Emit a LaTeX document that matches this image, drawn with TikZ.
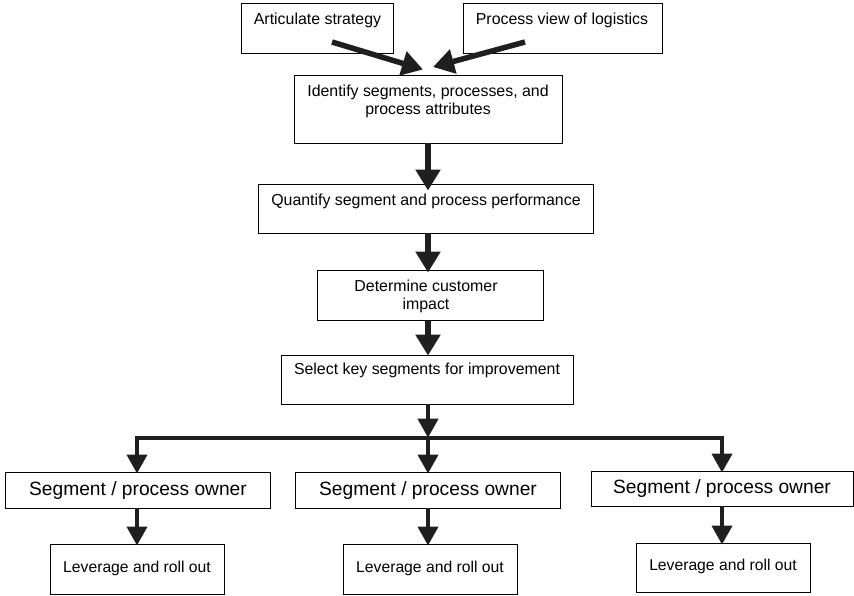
\documentclass[tikz,border=0pt]{standalone}
\usepackage{fontspec}
\setmainfont{Liberation Sans}
\usetikzlibrary{arrows.meta}
\tikzset{
  box/.style={draw=black, line width=0.9pt, fill=white, inner sep=0pt},
  txt/.style={inner sep=0pt, font=\fontsize{15.9}{18}\selectfont, align=center},
  segtxt/.style={inner sep=0pt, font=\fontsize{19.2}{22}\selectfont},
  levtxt/.style={inner sep=0pt, font=\fontsize{15.7}{18}\selectfont},
  arr/.style={line width=4pt, draw=black!88, -{Triangle[width=20pt 0 0,length=19pt 0 0]}},
  bigarr/.style={line width=5.5pt, draw=black!88, -{Triangle[width=24pt 0 0,length=21pt 0 0]}},
  bar/.style={line width=3.6pt, draw=black!88},
}
\begin{document}
\begin{tikzpicture}[x=1pt,y=-1pt]
\useasboundingbox (0,0) rectangle (854,595);
% boxes (centre, size)
\node[box, minimum width=152pt, minimum height=50pt] (art) at (317,28) {};
\node[box, minimum width=199pt, minimum height=50pt] (pv) at (562.5,28) {};
\node[box, minimum width=268pt, minimum height=68pt] (id) at (428,109) {};
\node[box, minimum width=335pt, minimum height=49pt] (q) at (425.5,208.5) {};
\node[box, minimum width=226pt, minimum height=50pt] (det) at (430,295.5) {};
\node[box, minimum width=292pt, minimum height=49pt] (sel) at (427,379.5) {};
\node[box, minimum width=265pt, minimum height=36pt] (s1) at (137.5,490) {};
\node[box, minimum width=265pt, minimum height=36pt] (s2) at (427.5,490) {};
\node[box, minimum width=262pt, minimum height=35pt] (s3) at (722,488.5) {};
\node[box, minimum width=174pt, minimum height=50pt] (l1) at (137,569) {};
\node[box, minimum width=174pt, minimum height=50pt] (l2) at (430,569) {};
\node[box, minimum width=174pt, minimum height=49pt] (l3) at (723,567.5) {};
% texts
\node[txt] (artt) at (317.5,20) {Articulate strategy};
\node[txt] (pvt) at (562,20) {Process view of logistics};
\node[txt] (idt) at (428,101) {Identify segments, processes, and\\process attributes};
\node[txt] (qt) at (426,201.7) {Quantify segment and process performance};
\node[txt] (dett) at (426,296) {Determine customer\\impact};
\node[txt] (selt) at (427,370) {Select key segments for improvement};
\node[segtxt] (s1t) at (138,491) {Segment / process owner};
\node[segtxt] (s2t) at (428,491) {Segment / process owner};
\node[segtxt] (s3t) at (722,489) {Segment / process owner};
\node[levtxt] (l1t) at (137,568) {Leverage and roll out};
\node[levtxt] (l2t) at (430,568) {Leverage and roll out};
\node[levtxt] (l3t) at (723,566) {Leverage and roll out};
% connector coordinates
\coordinate (cx) at (428,0);
\coordinate (a1) at (332,42);
\coordinate (a1e) at (423,69.5);
\coordinate (a2) at (525,42);
\coordinate (a2e) at (433,67);
\coordinate (bl) at (137,437.7);
\coordinate (bm) at (428,437.7);
\coordinate (br) at (722,437.7);
% arrows
\draw[bigarr] (a1) -- (a1e);
\draw[bigarr] (a2) -- (a2e);
\draw[bigarr] (cx |- id.south) -- ([yshift=-7pt]cx |- q.north);
\draw[bigarr] (cx |- q.south) -- ([yshift=-2.5pt]cx |- det.north);
\draw[bigarr] (cx |- det.south) -- ([yshift=-1pt]cx |- sel.north);
\draw[arr] (cx |- sel.south) -- (bm);
\draw[bar] (bl) -- (br);
\draw[arr, line join=miter] (bm) -- (bl) -- ([yshift=-2pt]bl |- s1.north);
\draw[arr, line join=miter] (bm) -- (br) -- ([yshift=-2pt]br |- s3.north);
\draw[arr] (bm) -- ([yshift=-2pt]bm |- s2.north);
\draw[arr] (bl |- s1.south) -- ([yshift=-2pt]bl |- l1.north);
\draw[arr] (bm |- s2.south) -- ([yshift=-2pt]bm |- l2.north);
\draw[arr] (br |- s3.south) -- ([yshift=-2pt]br |- l3.north);
\end{tikzpicture}
\end{document}
